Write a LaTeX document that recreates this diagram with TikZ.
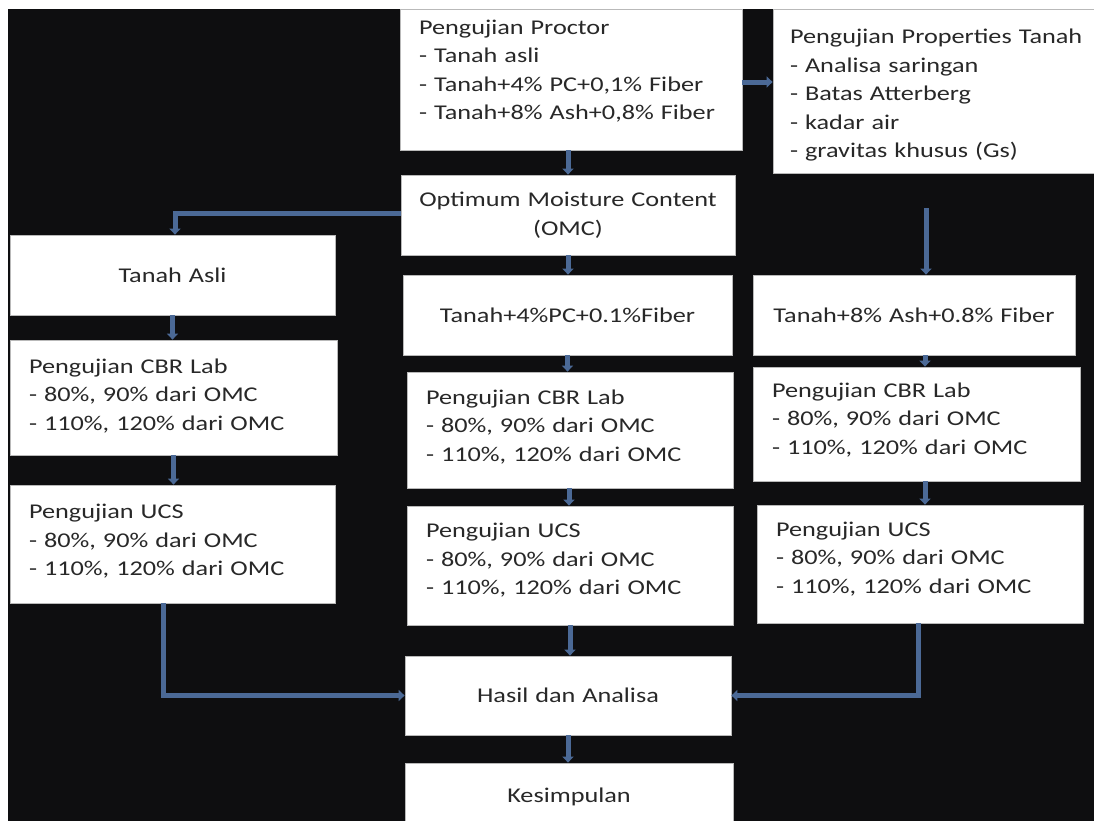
\documentclass[tikz,border=0pt]{standalone}
\usepackage{fontspec}
\setmainfont[FakeStretch=1.25]{Carlito}
\usetikzlibrary{arrows.meta,calc}
\definecolor{txt}{RGB}{40,40,40}
\definecolor{ac}{RGB}{75,105,150}
\definecolor{bgdark}{RGB}{14,14,16}
\newcommand{\fs}{\fontsize{21}{28.5}\selectfont}
\newcommand{\tx}[2]{\raisebox{#1}[\height][\depth]{\begin{tabular}{@{}l@{}}#2\end{tabular}}}
\begin{document}
\begin{tikzpicture}[x=1pt,y=-1pt,
  box/.style={rectangle, fill=white, draw=gray!55, line width=0.8pt, inner ysep=0pt, font=\fs, text=txt},
  lbox/.style={box, align=left, inner xsep=19pt},
  cbox/.style={box, align=center, inner xsep=0pt},
  arr/.style={draw=ac, line width=5pt, -{Triangle[width=11pt,length=6pt]}}]
\useasboundingbox (0,0) rectangle (1094,820);
\fill[white] (0,0) rectangle (1094,820);
\fill[bgdark] (8,9) rectangle (1100,826);
% nodes
\node[lbox, text width=304pt, minimum height=141pt] (proctor) at (571,79.5)
 {\tx{8pt}{Pengujian Proctor\\- Tanah asli\\- Tanah+4\% PC+0,1\% Fiber\\- Tanah+8\% Ash+0,8\% Fiber}};
\node[lbox, inner xsep=17pt, text width=287pt, minimum height=164pt] (prop) at (933.5,91)
 {\tx{-4pt}{Pengujian Properties Tanah\\- Analisa saringan\\- Batas Atterberg\\- kadar air\\- gravitas khusus (Gs)}};
\node[cbox, text width=334pt, minimum height=80pt] (omc) at (568,215)
 {Optimum Moisture Content\\(OMC)};
\node[cbox, text width=325pt, minimum height=80pt] (asli) at (172.5,275) {Tanah Asli};
\node[lbox, text width=289pt, minimum height=115pt] (cbrL) at (173.5,397.5)
 {\tx{1.5pt}{Pengujian CBR Lab\\- 80\%, 90\% dari OMC\\- 110\%, 120\% dari OMC}};
\node[lbox, text width=287pt, minimum height=118pt] (ucsL) at (172.5,544)
 {\tx{2.5pt}{Pengujian UCS\\- 80\%, 90\% dari OMC\\- 110\%, 120\% dari OMC}};
\node[cbox, text width=329pt, minimum height=80pt] (pc) at (567.5,315) {Tanah+4\%PC+0.1\%Fiber};
\node[lbox, text width=288pt, minimum height=116pt] (cbrM) at (570,430)
 {\tx{3pt}{Pengujian CBR Lab\\- 80\%, 90\% dari OMC\\- 110\%, 120\% dari OMC}};
\node[lbox, text width=288pt, minimum height=119pt] (ucsM) at (570,565.5)
 {\tx{5pt}{Pengujian UCS\\- 80\%, 90\% dari OMC\\- 110\%, 120\% dari OMC}};
\node[cbox, text width=322pt, minimum height=80pt] (ash) at (914,315) {Tanah+8\% Ash+0.8\% Fiber};
\node[lbox, text width=289pt, minimum height=114pt] (cbrR) at (916.5,424)
 {\tx{4pt}{Pengujian CBR Lab\\- 80\%, 90\% dari OMC\\- 110\%, 120\% dari OMC}};
\node[lbox, text width=288pt, minimum height=118pt] (ucsR) at (920,564)
 {\tx{5pt}{Pengujian UCS\\- 80\%, 90\% dari OMC\\- 110\%, 120\% dari OMC}};
\node[cbox, text width=326pt, minimum height=79pt] (hasil) at (568,695.5) {Hasil dan Analisa};
\node[cbox, text width=328pt, minimum height=68pt] (kes) at (569,797) {Kesimpulan};
% connectors
\draw[arr] (proctor.south -| omc.north) -- (omc.north);
\draw[arr] ([yshift=-2.5pt]proctor.east) -- ([yshift=-2.5pt]proctor.east -| prop.west);
\draw[arr] ([yshift=2pt]omc.west) -| ([xshift=2.5pt]asli.north);
\draw[arr] (omc.south) -- (omc.south |- pc.north);
\coordinate (c5) at (926,208);
\draw[arr] (c5) -- (c5 |- ash.north);
\draw[arr] (asli.south) -- (asli.south |- cbrL.north);
\draw[arr] (cbrL.south) -- (cbrL.south |- ucsL.north);
\draw[arr] ([xshift=-9.5pt]ucsL.south) |- (hasil.west);
\draw[arr] (pc.south) -- (pc.south |- cbrM.north);
\draw[arr] ([xshift=-1pt]cbrM.south) -- ([xshift=-1pt]cbrM.south |- ucsM.north);
\draw[arr] (ucsM.south) -- (ucsM.south |- hasil.north);
\draw[arr] ([xshift=11pt]ash.south) -- ([xshift=11pt]ash.south |- cbrR.north);
\draw[arr] ([xshift=8.5pt]cbrR.south) -- ([xshift=8.5pt]cbrR.south |- ucsR.north);
\draw[arr] ([xshift=-2pt]ucsR.south) |- (hasil.east);
\draw[arr] (hasil.south) -- (hasil.south |- kes.north);
\end{tikzpicture}
\end{document}
